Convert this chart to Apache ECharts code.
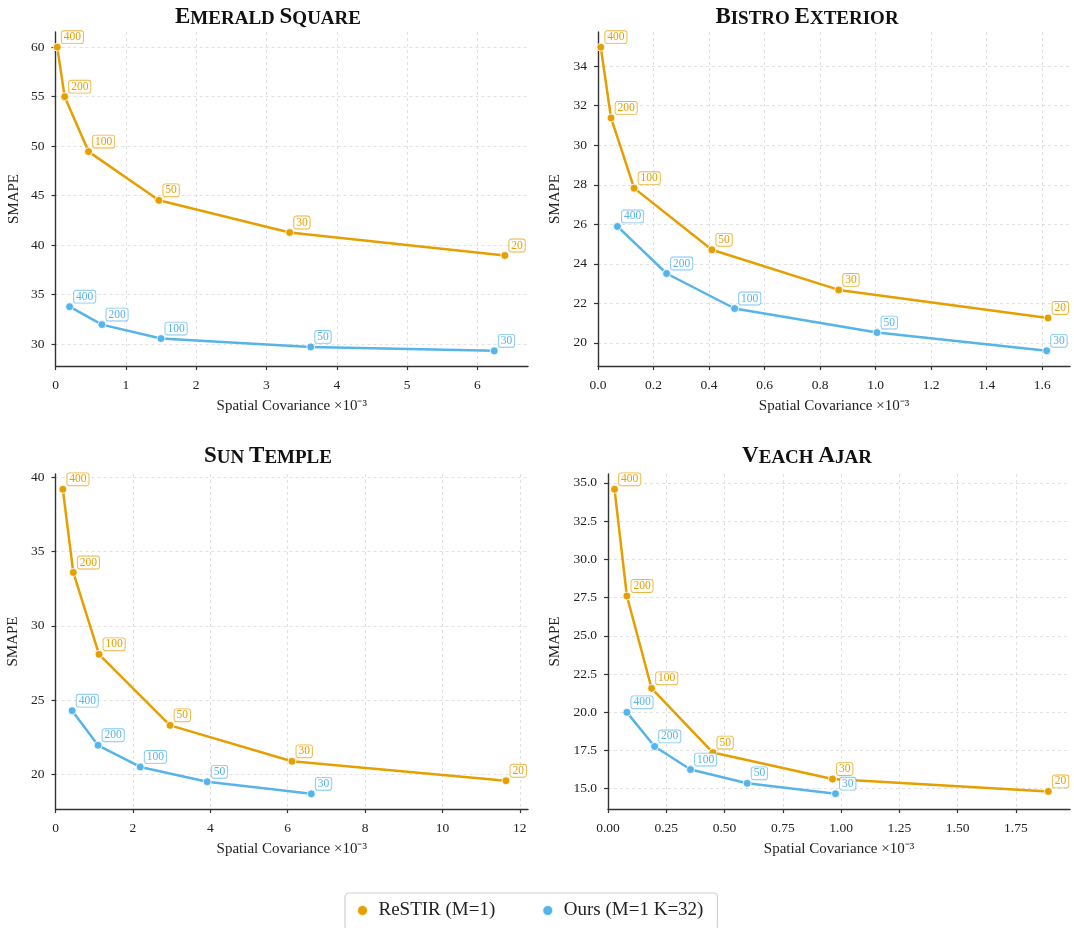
<!DOCTYPE html>
<html>
<head>
<meta charset="utf-8">
<script src="https://cdn.jsdelivr.net/npm/echarts@6/dist/echarts.min.js"></script>
<style>
html,body{margin:0;padding:0;background:#fff;}
#chart{width:1074px;height:928px;}
</style>
</head>
<body>
<div id="chart"></div>
<script>
// ---------------- data ----------------
const seriesNames = ['ReSTIR (M=1)', 'Ours (M=1 K=32)'];
const restirSampleLabels = ['400', '200', '100', '50', '30', '20'];
const oursSampleLabels = ['400', '200', '100', '50', '30'];

const panelTitles = ['Emerald Square', 'Bistro Exterior', 'Sun Temple', 'Veach Ajar'];

// Emerald Square
const emeraldRestirX = [0.025, 0.13, 0.47, 1.47, 3.33, 6.39];
const emeraldRestirY = [60.0, 55.0, 49.45, 44.53, 41.28, 38.96];
const emeraldOursX = [0.20, 0.66, 1.50, 3.63, 6.24];
const emeraldOursY = [33.79, 31.98, 30.57, 29.73, 29.33];
const emeraldXTicks = [0, 1, 2, 3, 4, 5, 6];
const emeraldYTicks = [30, 35, 40, 45, 50, 55, 60];

// Bistro Exterior
const bistroRestirX = [0.01, 0.047, 0.13, 0.41, 0.867, 1.621];
const bistroRestirY = [34.96, 31.38, 27.83, 24.71, 22.68, 21.26];
const bistroOursX = [0.07, 0.247, 0.492, 1.005, 1.616];
const bistroOursY = [25.89, 23.51, 21.74, 20.52, 19.60];
const bistroXTicks = [0.0, 0.2, 0.4, 0.6, 0.8, 1.0, 1.2, 1.4, 1.6];
const bistroYTicks = [20, 22, 24, 26, 28, 30, 32, 34];

// Sun Temple
const sunRestirX = [0.19, 0.46, 1.125, 2.96, 6.11, 11.64];
const sunRestirY = [39.19, 33.59, 28.08, 23.30, 20.88, 19.57];
const sunOursX = [0.43, 1.10, 2.19, 3.92, 6.61];
const sunOursY = [24.29, 21.96, 20.50, 19.50, 18.69];
const sunXTicks = [0, 2, 4, 6, 8, 10, 12];
const sunYTicks = [20, 25, 30, 35, 40];

// Veach Ajar
const veachRestirX = [0.028, 0.081, 0.187, 0.45, 0.963, 1.889];
const veachRestirY = [34.58, 27.60, 21.56, 17.36, 15.63, 14.82];
const veachOursX = [0.081, 0.20, 0.354, 0.597, 0.976];
const veachOursY = [19.99, 17.76, 16.25, 15.35, 14.67];
const veachXTicks = [0.00, 0.25, 0.50, 0.75, 1.00, 1.25, 1.50, 1.75];
const veachYTicks = [15.0, 17.5, 20.0, 22.5, 25.0, 27.5, 30.0, 32.5, 35.0];

const xAxisName = 'Spatial Covariance \u00d710\u207b\u00b3';
const yAxisName = 'SMAPE';

// ---------------- style / layout ----------------
const FONT = "'Liberation Serif', 'Times New Roman', serif";
const ORANGE = '#E69F00';
const BLUE = '#56B4E9';
const ORANGE_EDGE = 'rgba(230,159,0,0.75)';
const BLUE_EDGE = 'rgba(86,180,233,0.75)';

const panels = [
  { title: panelTitles[0], grid: {left: 55.5, top: 32, width: 472.5, height: 334}, titleX: 268, titleY: 6,
    xMax: 6.72, yMin: 27.80, yMax: 61.53, xTicks: emeraldXTicks, yTicks: emeraldYTicks, xDec: 0, yDec: 0, yNameGap: 34,
    restir: [emeraldRestirX, emeraldRestirY], ours: [emeraldOursX, emeraldOursY] },
  { title: panelTitles[1], grid: {left: 598, top: 32, width: 472, height: 334}, titleX: 807, titleY: 6,
    xMax: 1.70, yMin: 18.83, yMax: 35.73, xTicks: bistroXTicks, yTicks: bistroYTicks, xDec: 1, yDec: 0, yNameGap: 35,
    restir: [bistroRestirX, bistroRestirY], ours: [bistroOursX, bistroOursY] },
  { title: panelTitles[2], grid: {left: 55.5, top: 474, width: 472.5, height: 335}, titleX: 268, titleY: 445,
    xMax: 12.21, yMin: 17.67, yMax: 40.22, xTicks: sunXTicks, yTicks: sunYTicks, xDec: 0, yDec: 0, yNameGap: 35,
    restir: [sunRestirX, sunRestirY], ours: [sunOursX, sunOursY] },
  { title: panelTitles[3], grid: {left: 608, top: 474, width: 462, height: 335}, titleX: 807, titleY: 445,
    xMax: 1.982, yMin: 13.67, yMax: 35.58, xTicks: veachXTicks, yTicks: veachYTicks, xDec: 2, yDec: 1, yNameGap: 45,
    restir: [veachRestirX, veachRestirY], ours: [veachOursX, veachOursY] }
];

function smallCaps(str) {
  return str.split(' ').map(w => '{b|' + w[0].toUpperCase() + '}{s|' + w.slice(1).toUpperCase() + '}').join('{s| }');
}

const axisLineStyle = {color: '#333', width: 1.4};
const splitLineStyle = {color: '#dadada', width: 0.8, type: [3, 3]};

const grids = [], xAxes = [], yAxes = [], titles = [], series = [];

panels.forEach((p, i) => {
  grids.push(Object.assign({containLabel: false}, p.grid));
  titles.push({
    text: smallCaps(p.title),
    left: p.titleX, top: p.titleY, textAlign: 'center', padding: 0,
    textStyle: {
      fontFamily: FONT, fontWeight: 'bold', color: '#111',
      rich: {
        b: {fontFamily: FONT, fontWeight: 'bold', fontSize: 23, color: '#111', verticalAlign: 'bottom'},
        s: {fontFamily: FONT, fontWeight: 'bold', fontSize: 19, color: '#111', verticalAlign: 'bottom'}
      }
    }
  });
  xAxes.push({
    gridIndex: i, type: 'value', min: 0, max: p.xMax,
    name: xAxisName, nameLocation: 'middle', nameGap: 33,
    nameTextStyle: {fontFamily: FONT, fontSize: 15, color: '#222'},
    axisLine: {show: true, onZero: false, lineStyle: axisLineStyle},
    axisTick: {show: true, length: 4, customValues: p.xTicks, lineStyle: {color: '#333', width: 1.2}},
    axisLabel: {show: true, customValues: p.xTicks, margin: 12, fontFamily: FONT, fontSize: 13.5, color: '#222',
      formatter: v => Number(v).toFixed(p.xDec)},
    splitLine: {show: true, lineStyle: splitLineStyle}
  });
  yAxes.push({
    gridIndex: i, type: 'value', min: p.yMin, max: p.yMax,
    name: yAxisName, nameLocation: 'middle', nameGap: p.yNameGap,
    nameTextStyle: {fontFamily: FONT, fontSize: 15, color: '#222'},
    axisLine: {show: true, onZero: false, lineStyle: axisLineStyle},
    axisTick: {show: true, length: 4, customValues: p.yTicks, lineStyle: {color: '#333', width: 1.2}},
    axisLabel: {show: true, customValues: p.yTicks, margin: 11, fontFamily: FONT, fontSize: 13.5, color: '#222',
      formatter: v => Number(v).toFixed(p.yDec)},
    splitLine: {show: true, lineStyle: splitLineStyle}
  });

  const mk = (name, xy, labels, color, edge) => ({
    type: 'line', name: name, xAxisIndex: i, yAxisIndex: i,
    data: xy[0].map((x, k) => [x, xy[1][k], labels[k]]),
    symbol: 'circle', symbolSize: 8, showSymbol: true,
    lineStyle: {color: color, width: 2.5},
    itemStyle: {color: color, borderColor: 'rgba(255,255,255,0.85)', borderWidth: 1},
    label: {
      show: true, position: 'right', distance: 0, offset: [0, -10],
      formatter: q => q.value[2],
      fontFamily: FONT, fontSize: 11.5, lineHeight: 11, color: color,
      backgroundColor: 'rgba(255,255,255,0.9)', borderColor: edge, borderWidth: 0.9, borderRadius: 2,
      padding: [1, 2, 0, 2]
    },
    emphasis: {disabled: true},
    animation: false
  });
  series.push(mk(seriesNames[0], p.restir, restirSampleLabels, ORANGE, ORANGE_EDGE));
  series.push(mk(seriesNames[1], p.ours, oursSampleLabels, BLUE, BLUE_EDGE));
});

const chart = echarts.init(document.getElementById('chart'), null, {renderer: 'canvas'});
chart.setOption({
  animation: false,
  backgroundColor: '#fff',
  title: titles,
  grid: grids,
  xAxis: xAxes,
  yAxis: yAxes,
  legend: {
    data: seriesNames, left: 345, top: 893, orient: 'horizontal',
    icon: 'circle', itemWidth: 22, itemHeight: 11, itemGap: 46,
    padding: [8, 14, 10, 11],
    backgroundColor: '#fff', borderColor: '#cfcfcf', borderWidth: 1.2, borderRadius: 4,
    textStyle: {fontFamily: FONT, fontSize: 19, color: '#222'}
  },
  series: series
});
</script>
</body>
</html>
